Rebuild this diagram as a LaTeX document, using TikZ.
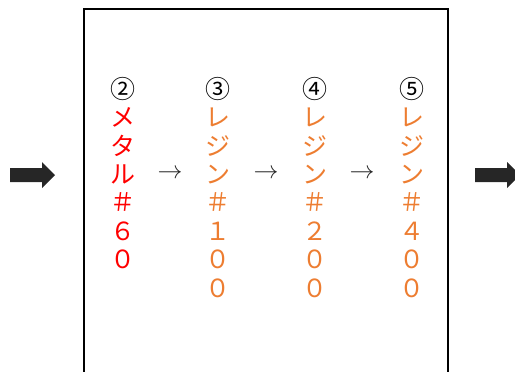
\documentclass[tikz,border=0pt]{standalone}
\usepackage{fontspec}
\newfontfamily\jp{Noto Sans CJK JP}
\definecolor{metalred}{HTML}{FF0000}
\definecolor{resinorange}{HTML}{ED7D31}
\definecolor{arrowgray}{HTML}{262626}
\begin{document}
\begin{tikzpicture}[x=1pt,y=-1pt,
		col/.style={anchor=north, align=center, inner sep=0pt, font=\jp\fontsize{25}{28.4}\selectfont},
		nextarrow/.style={inner sep=0pt, text=arrowgray, font=\fontsize{27}{27}\selectfont}]
		\useasboundingbox (0,0) rectangle (515,372);
		\clip (0,0) rectangle (515,372);
		% Box
		\draw[line width=2.8pt] (84,400) -- (84,9) -- (448,9) -- (448,400);
		% Block arrows
		\fill[arrowgray] (10,168) -- (42,168) -- (42,162) -- (55,175) -- (42,188) -- (42,182) -- (10,182) -- cycle;
		\fill[arrowgray] (475,168) -- (507,168) -- (507,162) -- (520,175) -- (507,188) -- (507,182) -- (475,182) -- cycle;
		
		% Columns
		\node[col, text=metalred] (metal60) at (123,77) {{\color{black}②}\\メ\\タ\\ル\\＃\\６\\０};
		\node[col, text=resinorange] (resin100) at (218,77) {{\color{black}③}\\レ\\ジ\\ン\\＃\\１\\０\\０};
		\node[col, text=resinorange] (resin200) at (315,77) {{\color{black}④}\\レ\\ジ\\ン\\＃\\２\\０\\０};
		\node[col, text=resinorange] (resin400) at (412,77) {{\color{black}⑤}\\レ\\ジ\\ン\\＃\\４\\０\\０};
		
		% Arrows between columns
		\node[nextarrow] (next1) at (170,174) {$\rightarrow$};
		\node[nextarrow] (next2) at (266,174) {$\rightarrow$};
		\node[nextarrow] (next3) at (362,174) {$\rightarrow$};
	\end{tikzpicture}
\end{document}
